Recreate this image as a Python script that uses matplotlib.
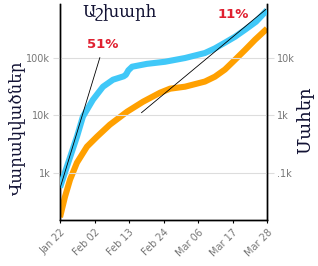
import datetime as dt
import numpy as np
import matplotlib
matplotlib.use("Agg")
import matplotlib.pyplot as plt
from matplotlib.ticker import FixedLocator, NullLocator

# ---- data (world, Jan 22 – Mar 28) ----
start_date = dt.date(2020, 1, 22)
case_days = [0, 2.2, 5.4, 7.3, 10.5, 13.7, 16.9, 20.3, 21.0, 21.8, 23.0, 27.7,
             33.5, 39.9, 46.2, 49.4, 52.6, 55.8, 59.0, 62.5, 66]
cases = [560, 1290, 4270, 9530, 18800, 31600, 41900, 48000, 51000, 61000, 70500, 79000,
         86000, 100000, 122000, 147000, 185000, 234000, 310000, 427000, 680000]
death_days = [0, 1.6, 3.2, 5.4, 8.6, 11.8, 15.9, 21.4, 26.5, 31.9, 35.1, 39.9,
              46.2, 49.4, 52.6, 55.8, 59.0, 62.2, 66]
deaths = [17, 38.7, 76.5, 151, 287, 428, 692, 1164, 1738, 2489, 2925, 3170,
          3890, 4730, 6300, 9300, 13800, 20800, 32400]

# growth trend lines: (rate, start day, start value, end day)
trend_early = (0.51, 0.0, 540, 12.7)
trend_late = (0.11, 26.0, 11200, 65.6)
trend_labels = ["51%", "11%"]

x_tick_days = [0, 11, 22, 33, 44, 55, 66]
left_ticks = [1e3, 1e4, 1e5]
left_tick_labels = ["1k", "10k", "100k"]
right_ticks = [1e2, 1e3, 1e4]
right_tick_labels = [".1k", "1k", "10k"]

title = "Աշխարհ"
left_label = "Վարակվածներ"
right_label = "Մահեր"

# ---- figure ----
fig = plt.figure(figsize=(3.18, 2.66), dpi=100)
ax = fig.add_axes([60/318, 1-220/266, 207/318, 216/266])
ax2 = ax.twinx()

grid_c = "#dddddd"
ylo, yhi = 152, 869e3

ax.set_yscale("log")
ax2.set_yscale("log")
ax.set_ylim(ylo, yhi)
ax2.set_ylim(ylo/10, yhi/10)
ax.set_xlim(0, 66)

for yv in left_ticks:
    ax.axhline(yv, color=grid_c, lw=0.8, zorder=0)

ax2.plot(death_days, deaths, color="#ffa000", lw=4.4, solid_capstyle="butt",
         solid_joinstyle="round", zorder=2)
ax.plot(case_days, cases, color="#40c8f8", lw=4.4, solid_capstyle="butt",
        solid_joinstyle="round", zorder=3)
ax.set_zorder(ax2.get_zorder() + 1)
ax.patch.set_visible(False)

for rate, d0, v0, d1 in (trend_early, trend_late):
    t = np.linspace(d0, d1, 50)
    ax.plot(t, v0 * (1 + rate) ** (t - d0), color="black", lw=0.6, zorder=4)

ax.text(13.7, 1e5 * 10**(13/57.5), trend_labels[0], color="#e02030", fontsize=9.5,
        fontweight="bold", ha="center", va="center")
ax.text(55.3, 1e5 * 10**(43/57.5), trend_labels[1], color="#e02030", fontsize=9.5,
        fontweight="bold", ha="center", va="center")

# ticks
ax.yaxis.set_major_locator(FixedLocator(left_ticks))
ax.yaxis.set_minor_locator(NullLocator())
ax.set_yticklabels(left_tick_labels)
ax2.yaxis.set_major_locator(FixedLocator(right_ticks))
ax2.yaxis.set_minor_locator(NullLocator())
ax2.set_yticklabels(right_tick_labels)
for a in (ax, ax2):
    a.tick_params(axis="y", length=5, width=0.8, color=grid_c,
                  labelsize=7, labelcolor="#777777", pad=2)

ax.set_xticks(x_tick_days)
ax.set_xticklabels([(start_date + dt.timedelta(days=d)).strftime("%b %d") for d in x_tick_days],
                   rotation=45, ha="right", rotation_mode="anchor")
ax.tick_params(axis="x", length=2, width=0.8, color="black",
               labelsize=7, labelcolor="#777777", pad=3)

for a in (ax, ax2):
    a.spines["top"].set_visible(False)
    for s in ("left", "right", "bottom"):
        a.spines[s].set_linewidth(1.0)
        a.spines[s].set_color("black")

serif = ["DejaVu Serif", "DejaVu Sans"]
fig.text(120/318, 1-13/266, title, family=serif, fontsize=12, ha="center",
         va="center", color="#111133")
fig.text(17/318, 1-128/266, left_label, family=serif, fontsize=12, rotation=90,
         ha="center", va="center", color="#111133")
fig.text(305/318, 1-120/266, right_label, family=serif, fontsize=13, rotation=90,
         ha="center", va="center", color="#111133")

fig.savefig("out.png", dpi=100)
